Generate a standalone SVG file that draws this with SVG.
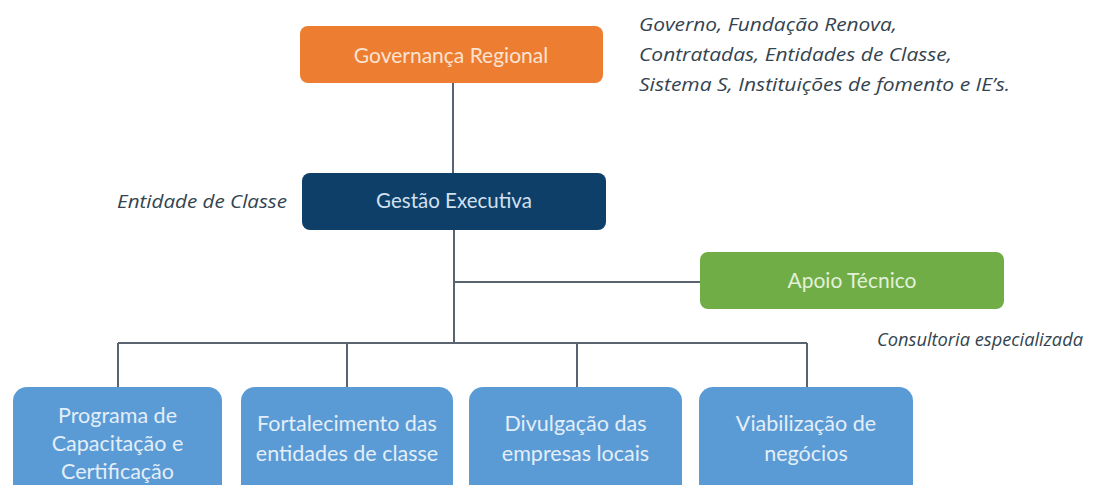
<svg xmlns="http://www.w3.org/2000/svg" width="1105" height="485" viewBox="0 0 1105 485">
<style>
.lbl{font-family:Lato,"Open Sans","Liberation Sans",sans-serif;text-anchor:middle}
.ann{font-family:"Open Sans","Noto Sans","Liberation Sans",sans-serif;font-style:italic;fill:#33444F;font-size:17.5px}
.ln{stroke:#5A6470;stroke-width:2;fill:none}
.blue{fill:#5B9BD5}
.bt{fill:#E3EEF8;font-size:21.5px}
</style>
<rect width="1105" height="485" fill="#FFFFFF"/>
<g id="connectors">
<path class="ln" d="M453 83 V173"/>
<path class="ln" d="M454 230 V343"/>
<path class="ln" d="M454 282 H700"/>
<path class="ln" d="M118 343 H807"/>
<path class="ln" d="M118 343 V387 M347 343 V387 M577 343 V387 M807 343 V387"/>
</g>
<g id="governanca">
<rect x="300" y="26" width="303" height="57" rx="8" fill="#ED7D31"/>
<text class="lbl" x="451" y="63" font-size="21" fill="#FBE3D2">Governança Regional</text>
</g>
<g id="gestao">
<rect x="302" y="173" width="304" height="57" rx="8" fill="#0E3F69"/>
<text class="lbl" x="454" y="208" font-size="20.5" fill="#D2E0EE">Gestão Executiva</text>
</g>
<g id="apoio">
<rect x="700" y="252" width="304" height="57" rx="8" fill="#70AD47"/>
<text class="lbl" x="852" y="288" font-size="21" fill="#E2F0D9">Apoio Técnico</text>
</g>
<g id="programa">
<rect class="blue" x="13" y="387" width="209" height="120" rx="14"/>
<text class="lbl bt" x="117.5" y="423">Programa de</text>
<text class="lbl bt" x="117.5" y="451">Capacitação e</text>
<text class="lbl bt" x="117.5" y="479">Certificação</text>
</g>
<g id="fortalecimento">
<rect class="blue" x="241" y="387" width="212" height="120" rx="14"/>
<text class="lbl bt" x="347" y="431">Fortalecimento das</text>
<text class="lbl bt" x="347" y="461">entidades de classe</text>
</g>
<g id="divulgacao">
<rect class="blue" x="469" y="387" width="213" height="120" rx="14"/>
<text class="lbl bt" x="575.5" y="431">Divulgação das</text>
<text class="lbl bt" x="575.5" y="461">empresas locais</text>
</g>
<g id="viabilizacao">
<rect class="blue" x="699" y="387" width="214" height="120" rx="14"/>
<text class="lbl bt" x="806" y="431">Viabilização de</text>
<text class="lbl bt" x="806" y="461">negócios</text>
</g>
<g id="annotations">
<text class="ann" x="639" y="31" textLength="258" lengthAdjust="spacingAndGlyphs">Governo, Fundação Renova,</text>
<text class="ann" x="639" y="61" textLength="313" lengthAdjust="spacingAndGlyphs">Contratadas, Entidades de Classe,</text>
<text class="ann" x="639" y="91" textLength="371" lengthAdjust="spacingAndGlyphs">Sistema S, Instituições de fomento e IE’s.</text>
<text class="ann" x="117" y="208" textLength="170" lengthAdjust="spacingAndGlyphs">Entidade de Classe</text>
<text class="ann" x="877" y="346" textLength="206" lengthAdjust="spacingAndGlyphs">Consultoria especializada</text>
</g>
</svg>
